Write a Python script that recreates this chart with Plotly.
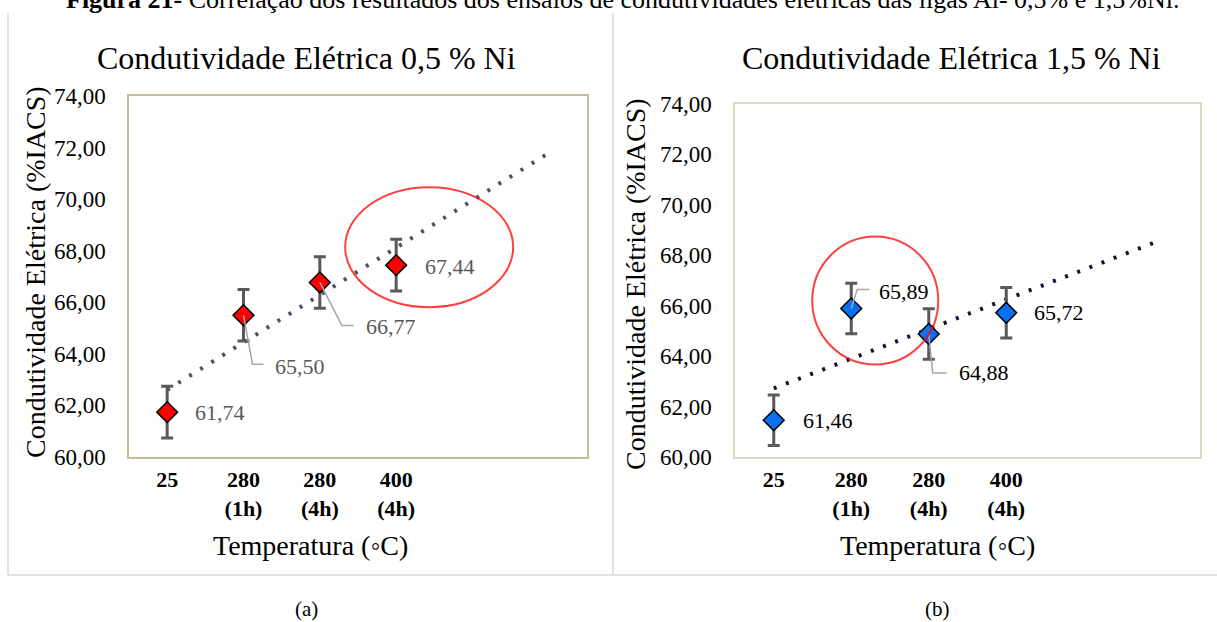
import numpy as np
import plotly.graph_objects as go

# ---- data -------------------------------------------------------------
categories = ["25", "280<br>(1h)", "280<br>(4h)", "400<br>(4h)"]
ni05_values = [61.74, 65.50, 66.77, 67.44]   # Al-0,5%Ni  (%IACS)
ni15_values = [61.46, 65.89, 64.88, 65.72]   # Al-1,5%Ni  (%IACS)
error_margin = [1.0, 1.0, 1.0, 1.0]
y_tick_values = [60, 62, 64, 66, 68, 70, 72, 74]
trend_forward = 2  # linear trendline projected two categories ahead

# ---- page geometry (pixels) -------------------------------------------
W, H = 1217, 622
SERIF = "Liberation Serif"


def fx(px):
    return px / W


def fy(py):
    return 1 - py / H


def fmt(v):
    return f"{v:.2f}".replace(".", ",")


x_pos = list(range(1, len(categories) + 1))

fig = go.Figure()

panels = [
    dict(values=ni05_values, xa="x", ya="y", color="#FF0000", trend="#44546A",
         label_color="#595959", box="#C4BD97",
         dom_x=(129, 587), dom_y=(96, 457)),
    dict(values=ni15_values, xa="x2", ya="y2", color="#0B6FF2", trend="#141432",
         label_color="#000000", box="#DDD9C4",
         dom_x=(735, 1200), dom_y=(104, 457)),
]

for p in panels:
    # linear trendline
    slope, intercept = np.polyfit(x_pos, p["values"], 1)
    tx = [x_pos[0], x_pos[-1] + trend_forward]
    ty = [intercept + slope * t for t in tx]
    fig.add_trace(go.Scatter(
        x=tx, y=ty, mode="lines", xaxis=p["xa"], yaxis=p["ya"],
        line=dict(color=p["trend"], width=4, dash="3px,10px"),
        hoverinfo="skip", showlegend=False))
    # measured points with error bars
    fig.add_trace(go.Scatter(
        x=x_pos, y=p["values"], mode="markers", xaxis=p["xa"], yaxis=p["ya"],
        marker=dict(symbol="diamond", size=16, color=p["color"],
                    line=dict(color="#000000", width=1.5)),
        error_y=dict(type="data", array=error_margin, visible=True,
                     color="#595959", thickness=3, width=6),
        showlegend=False))

# ---- data labels (pixel offsets from each point; y positive = up) -----
label_layout = [
    # panel a
    [dict(dx=26, dy=0, leader=None),
     dict(dx=29, dy=-51, leader="M0,0L9,-49L20,-49"),
     dict(dx=44, dy=-44, leader="M0,0L22,-43L34,-43"),
     dict(dx=27, dy=-1, leader=None)],
    # panel b
    [dict(dx=27, dy=0, leader=None),
     dict(dx=26, dy=17, leader="M0,0L6,19L18,19"),
     dict(dx=28, dy=-39, leader="M0,0L4,-39L18,-39"),
     dict(dx=26, dy=0, leader=None)],
]

annotations = []
shapes = []

for p, layout_row in zip(panels, label_layout):
    for xv, yv, lab in zip(x_pos, p["values"], layout_row):
        annotations.append(dict(
            x=xv, y=yv, xref=p["xa"], yref=p["ya"], text=fmt(yv),
            showarrow=False, xanchor="left", yanchor="middle",
            xshift=lab["dx"], yshift=lab["dy"],
            font=dict(family=SERIF, size=22, color=p["label_color"])))
        if lab["leader"]:
            shapes.append(dict(
                type="path", xref=p["xa"], yref=p["ya"],
                xsizemode="pixel", ysizemode="pixel",
                xanchor=xv, yanchor=yv, path=lab["leader"],
                line=dict(color="#A6A6A6", width=1.5)))

# highlight ellipses around the selected points
shapes.append(dict(type="circle", xref="x", yref="y",
                   xsizemode="pixel", ysizemode="pixel",
                   xanchor=x_pos[3], yanchor=ni05_values[3],
                   x0=-51, x1=117, y0=-42, y1=78,
                   line=dict(color="rgba(255,0,0,0.75)", width=2)))
shapes.append(dict(type="circle", xref="x2", yref="y2",
                   xsizemode="pixel", ysizemode="pixel",
                   xanchor=x_pos[1], yanchor=ni15_values[1],
                   x0=-39, x1=87, y0=-56, y1=72,
                   line=dict(color="rgba(255,0,0,0.75)", width=2)))

# panel frames
frame = dict(color="#D9D9D9", width=1.5)
shapes += [
    dict(type="line", xref="paper", yref="paper", x0=fx(8), x1=fx(8),
         y0=fy(13), y1=fy(575), line=frame),
    dict(type="line", xref="paper", yref="paper", x0=fx(613), x1=fx(613),
         y0=fy(13), y1=fy(575), line=frame),
    dict(type="line", xref="paper", yref="paper", x0=fx(8), x1=fx(1217),
         y0=fy(575), y1=fy(575), line=frame),
]

# ---- texts ------------------------------------------------------------
annotations.append(dict(
    x=fx(622), y=fy(16), xref="paper", yref="paper", xanchor="center",
    yanchor="bottom", showarrow=False,
    text="<b>Figura 21-</b> Correlação dos resultados dos ensaios de "
         "condutividades elétricas das ligas Al- 0,5% e 1,5%Ni.",
    font=dict(family=SERIF, size=26, color="#000000")))

titles = [
    ("Condutividade Elétrica 0,5 % Ni", 306, 58, 35, 272, 310, 545, "(a)", 306),
    ("Condutividade Elétrica 1,5 % Ni", 951, 58, 635, 284, 937, 545, "(b)", 937),
]
for t, tx_, ty_, yx, yy, xx, xy, cap, capx in titles:
    annotations.append(dict(x=fx(tx_), y=fy(ty_), xref="paper", yref="paper",
                            text=t, showarrow=False, xanchor="center",
                            yanchor="middle",
                            font=dict(family=SERIF, size=32, color="#000000")))
    annotations.append(dict(x=fx(yx), y=fy(yy), xref="paper", yref="paper",
                            text="Condutividade Elétrica (%IACS)",
                            showarrow=False, textangle=-90,
                            xanchor="center", yanchor="middle",
                            font=dict(family=SERIF, size=28, color="#000000")))
    annotations.append(dict(x=fx(xx), y=fy(xy), xref="paper", yref="paper",
                            text="Temperatura (◦C)", showarrow=False,
                            xanchor="center", yanchor="middle",
                            font=dict(family=SERIF, size=28, color="#000000")))
    annotations.append(dict(x=fx(capx), y=fy(609), xref="paper", yref="paper",
                            text=cap, showarrow=False,
                            xanchor="center", yanchor="middle",
                            font=dict(family=SERIF, size=21, color="#000000")))

# ---- axes -------------------------------------------------------------
n_slots = len(categories) + trend_forward
axis_common_x = dict(
    range=[0.5, n_slots + 0.5], tickvals=x_pos,
    ticktext=[f"<b>{c}</b>" for c in categories],
    tickfont=dict(family=SERIF, size=22, color="#000000"),
    ticks="outside", ticklen=2, tickcolor="rgba(0,0,0,0)",
    showgrid=False, zeroline=False, showline=True, mirror=True,
    linewidth=1.5, fixedrange=True, automargin=False)
axis_common_y = dict(
    range=[60, 74], tickvals=y_tick_values, tickformat=".2f",
    tickfont=dict(family=SERIF, size=23, color="#000000"),
    ticks="outside", ticklen=17, tickcolor="rgba(0,0,0,0)",
    showgrid=False, zeroline=False, showline=True, mirror=True,
    linewidth=1.5, fixedrange=True, automargin=False)

fig.update_layout(
    template="none",
    width=W, height=H,
    margin=dict(l=0, r=0, t=0, b=0, pad=0, autoexpand=False),
    paper_bgcolor="#FFFFFF", plot_bgcolor="#FFFFFF",
    separators=",.",
    showlegend=False,
    xaxis=dict(axis_common_x, domain=[fx(panels[0]["dom_x"][0]), fx(panels[0]["dom_x"][1])],
               anchor="y", linecolor=panels[0]["box"]),
    yaxis=dict(axis_common_y, domain=[fy(panels[0]["dom_y"][1]), fy(panels[0]["dom_y"][0])],
               anchor="x", linecolor=panels[0]["box"]),
    xaxis2=dict(axis_common_x, domain=[fx(panels[1]["dom_x"][0]), fx(panels[1]["dom_x"][1])],
                anchor="y2", linecolor=panels[1]["box"]),
    yaxis2=dict(axis_common_y, domain=[fy(panels[1]["dom_y"][1]), fy(panels[1]["dom_y"][0])],
                anchor="x2", linecolor=panels[1]["box"]),
    annotations=annotations,
    shapes=shapes,
)

fig.write_html("out.html")
